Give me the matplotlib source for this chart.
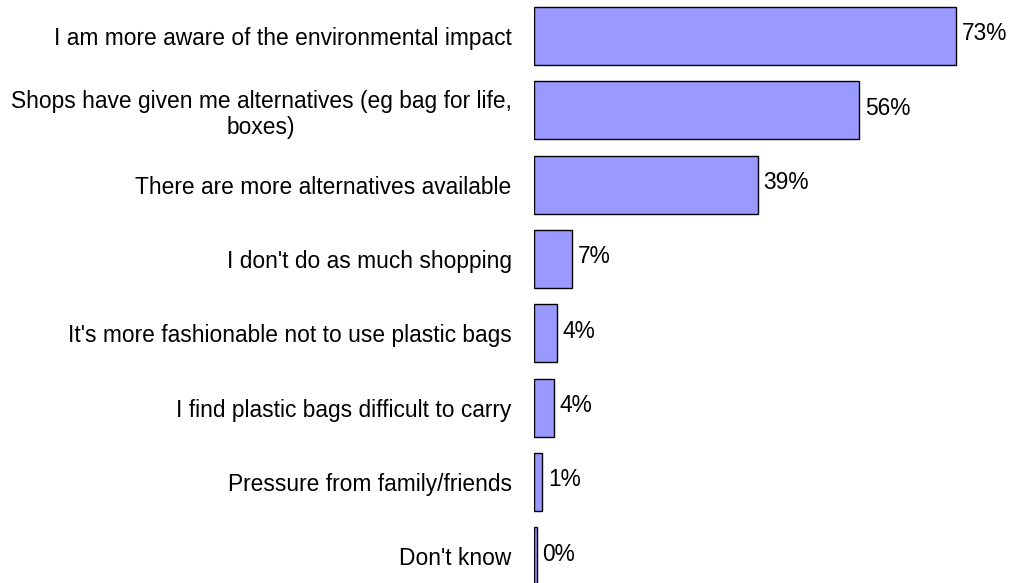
import numpy as np
import matplotlib.pyplot as plt

# reasons for using fewer plastic bags
reasons = ["I am more aware of the environmental impact",
           "Shops have given me alternatives (eg bag for life,\nboxes)",
           "There are more alternatives available",
           "I don't do as much shopping",
           "It's more fashionable not to use plastic bags",
           "I find plastic bags difficult to carry",
           "Pressure from family/friends",
           "Don't know"]
values = [73.0, 56.2, 38.7, 6.6, 4.0, 3.5, 1.5, 0.5]
labels = ["73%", "56%", "39%", "7%", "4%", "4%", "1%", "0%"]

plt.rcParams['font.family'] = ['Liberation Sans', 'DejaVu Sans']

fig = plt.figure(figsize=(10.11, 5.83), dpi=100)
ax = fig.add_axes([0.528, 0.0, 0.458, 1.0])

y = np.arange(len(reasons))
ax.barh(y, values, height=0.78, color='#9999FF', edgecolor='black', linewidth=1.0)

for i in range(len(values)):
    ax.text(values[i] + 1.0, y[i] - 0.03, labels[i], va='center', ha='left', fontsize=16.4)

ax.set_yticks(y)
ax.set_yticklabels(reasons, fontsize=16.4, multialignment='center')
ax.tick_params(axis='y', length=0, pad=16)
ax.set_xticks([])
ax.set_xlim(0, 80)
ax.set_ylim(7.36, -0.485)
for s in ax.spines.values():
    s.set_visible(False)

fig.savefig('out.png', dpi=100)
